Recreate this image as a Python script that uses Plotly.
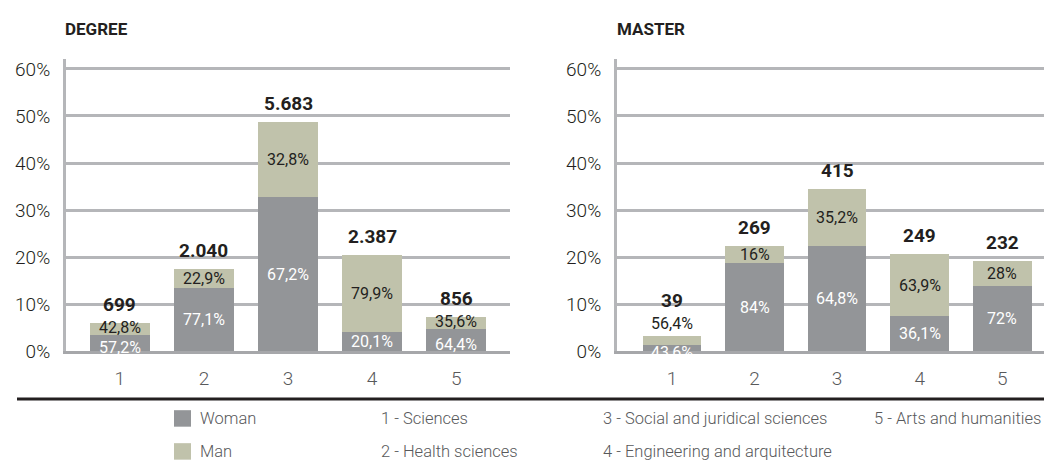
import plotly.graph_objects as go

W, H = 1052, 469

categories = ["1", "2", "3", "4", "5"]
category_names = ["1 - Sciences", "2 - Health sciences", "3 - Social and juridical sciences",
                  "4 - Engineering and arquitecture", "5 - Arts and humanities"]

# DEGREE: stacked heights (% of all degree students)
degree_woman = [3.43, 13.48, 32.74, 4.11, 4.73]
degree_man = [2.56, 4.01, 15.98, 16.35, 2.61]
degree_woman_lbl = ["57,2%", "77,1%", "67,2%", "20,1%", "64,4%"]
degree_man_lbl = ["42,8%", "22,9%", "32,8%", "79,9%", "35,6%"]
degree_totals = ["699", "2.040", "5.683", "2.387", "856"]

# MASTER
master_woman = [1.41, 18.77, 22.34, 7.47, 13.87]
master_man = [1.83, 3.57, 12.13, 13.21, 5.40]
master_woman_lbl = ["43,6%", "84%", "64,8%", "36,1%", "72%"]
master_man_lbl = ["56,4%", "16%", "35,2%", "63,9%", "28%"]
master_totals = ["39", "269", "415", "249", "232"]

y_ticks = [0, 10, 20, 30, 40, 50, 60]

WOMAN_C = "#939598"
MAN_C = "#c0c2ab"
GRID_C = "#b5b6b9"
DARK = "#231f20"
GREY_TXT = "#58595b"
FONT = "Roboto, Liberation Sans, sans-serif"

fig = go.Figure()
xs = list(range(len(categories)))

panels = [
    ("x", "y", degree_woman, degree_man, degree_woman_lbl, degree_man_lbl, degree_totals),
    ("x2", "y2", master_woman, master_man, master_woman_lbl, master_man_lbl, master_totals),
]

annotations = []
for xa, ya, wv, mv, wl, ml, tl in panels:
    fig.add_trace(go.Bar(x=xs, y=wv, marker=dict(color=WOMAN_C, line=dict(width=0)),
                         name="Woman", xaxis=xa, yaxis=ya, showlegend=False, hoverinfo="skip"))
    fig.add_trace(go.Bar(x=xs, y=mv, marker=dict(color=MAN_C, line=dict(width=0)),
                         name="Man", xaxis=xa, yaxis=ya, showlegend=False, hoverinfo="skip"))
    for i in xs:
        top = wv[i] + mv[i]
        small = top < 8
        annotations.append(dict(x=i, y=wv[i] / 2, xref=xa, yref=ya, text=wl[i], showarrow=False,
                                font=dict(family=FONT, size=16, color="white"), yanchor="middle",
                                yshift=-4 if small else 0))
        extra = 0
        if mv[i] < 2.0:
            annotations.append(dict(x=i, y=top, xref=xa, yref=ya, text=ml[i], showarrow=False,
                                    font=dict(family=FONT, size=16, color=DARK), yanchor="bottom", yshift=1))
            extra = 17
        else:
            annotations.append(dict(x=i, y=wv[i] + mv[i] / 2, xref=xa, yref=ya, text=ml[i], showarrow=False,
                                    font=dict(family=FONT, size=16, color=DARK), yanchor="middle",
                                    yshift=2 if small else 0))
        annotations.append(dict(x=i, y=top, xref=xa, yref=ya, text="<b>" + tl[i] + "</b>", showarrow=False,
                                font=dict(family=FONT, size=19, color=DARK), yanchor="bottom", yshift=5 + extra))

# titles
for title, tx in [("DEGREE", 57), ("MASTER", 609)]:
    annotations.append(dict(x=tx / W, y=1 - 20 / H, xref="paper", yref="paper", text="<b>" + title + "</b>",
                            showarrow=False, xanchor="left", yanchor="middle", xshift=-2,
                            font=dict(family=FONT, size=17, color=DARK)))

# custom legend
LEG_FONT = dict(family=FONT, size=16.5, color=GREY_TXT, weight=300)
shapes = []
for (label, col, yy) in [("Woman", WOMAN_C, 421), ("Man", MAN_C, 455)]:
    shapes.append(dict(type="rect", xref="paper", yref="paper",
                       x0=166 / W, x1=183 / W, y0=1 - (yy + 8.5) / H, y1=1 - (yy - 8.5) / H,
                       fillcolor=col, line=dict(width=0)))
    annotations.append(dict(x=190 / W, y=1 - yy / H, xref="paper", yref="paper", text=label,
                            showarrow=False, xanchor="left", yanchor="middle", font=LEG_FONT))
leg_pos = [(371, 421), (371, 455), (593, 421), (593, 455), (864, 421)]
for name, (lx, ly) in zip(category_names, leg_pos):
    annotations.append(dict(x=lx / W, y=1 - ly / H, xref="paper", yref="paper", text=name,
                            showarrow=False, xanchor="left", yanchor="middle", font=LEG_FONT))

shapes.append(dict(type="line", xref="paper", yref="paper", x0=9 / W, x1=1, y0=1 - 401 / H, y1=1 - 401 / H,
                   line=dict(color=DARK, width=3)))

y_dom = [1 - 352 / H, 1 - 51 / H]
axis_common_y = dict(range=[0, 62], tickvals=y_ticks, ticktext=[f"{v}%" for v in y_ticks],
                     showgrid=True, gridcolor=GRID_C, gridwidth=3, zeroline=False,
                     showline=True, linecolor=GRID_C, linewidth=3, ticks="",
                     tickfont=dict(family=FONT, size=19, color=DARK, weight=300), domain=y_dom, fixedrange=True)
axis_common_x = dict(tickvals=xs, ticktext=categories, showgrid=False, zeroline=False,
                     showline=True, linecolor="#a6a7aa", linewidth=3, ticks="",
                     tickfont=dict(family=FONT, size=19, color=GREY_TXT, weight=300), fixedrange=True)

fig.update_layout(
    width=W, height=H,
    margin=dict(l=0, r=0, t=0, b=0),
    paper_bgcolor="white", plot_bgcolor="white",
    barmode="stack", bargap=0.29,
    showlegend=False,
    xaxis=dict(domain=[58 / W, 502 / W], range=[-0.64, 4.64], anchor="y", **axis_common_x),
    yaxis=dict(anchor="x", **axis_common_y),
    xaxis2=dict(domain=[609 / W, 1.0], range=[-0.667, 4.70], anchor="y2", **axis_common_x),
    yaxis2=dict(anchor="x2", **axis_common_y),
    annotations=annotations,
    shapes=shapes,
)
fig.update_yaxes(ticklabelstandoff=9)
fig.update_xaxes(ticklabelstandoff=8)

fig.write_html("out.html")
